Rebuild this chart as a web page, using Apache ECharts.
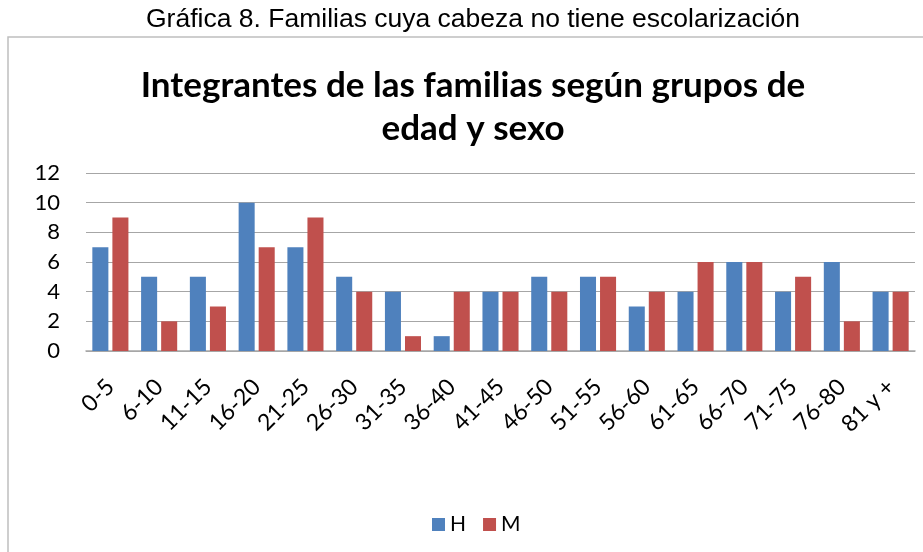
<!DOCTYPE html>
<html>
<head>
<meta charset="utf-8">
<title>ECharts</title>
<script src="https://cdn.jsdelivr.net/npm/echarts@6/dist/echarts.min.js"></script>
<style>
  body { margin: 0; background: #fff; }
</style>
</head>
<body>
<div id="main" style="width: 923px;height:552px;"></div>
<script type="text/javascript">
var categories = ['0-5', '6-10', '11-15', '16-20', '21-25', '26-30', '31-35', '36-40', '41-45',
  '46-50', '51-55', '56-60', '61-65', '66-70', '71-75', '76-80', '81 y +'];
var hombres = [7, 5, 5, 10, 7, 5, 4, 1, 4, 5, 5, 3, 4, 6, 4, 6, 4];
var mujeres = [9, 2, 3, 7, 9, 4, 1, 4, 4, 4, 5, 4, 6, 6, 5, 2, 4];
var yTicks = [0, 2, 4, 6, 8, 10, 12];

var myChart = echarts.init(document.getElementById('main'));
var font = 'Lato, "Open Sans", sans-serif';

var option = {
  animation: false,
  graphic: [{
    type: 'rect',
    shape: { x: 8, y: 37, width: 930, height: 530 },
    style: { fill: 'none', stroke: '#bfbfbf', lineWidth: 1.5 },
    z: -1
  }, {
    type: 'text',
    x: 473, y: 6,
    style: {
      text: 'Gráfica 8. Familias cuya cabeza no tiene escolarización',
      textAlign: 'center',
      font: '26.5px "Liberation Sans", Arial, sans-serif',
      fill: '#000'
    }
  }, {
    type: 'text',
    x: 473, y: 64,
    style: {
      text: 'Integrantes de las familias según grupos de\nedad y sexo',
      textAlign: 'center',
      font: 'bold 35px Lato, "Open Sans", sans-serif',
      lineHeight: 43,
      fill: '#000'
    }
  }],
  legend: {
    bottom: 12, left: 427,
    itemWidth: 13, itemHeight: 13, itemGap: 17,
    icon: 'rect',
    textStyle: { fontFamily: font, fontSize: 21, color: '#000' },
    data: ['H', 'M']
  },
  grid: { left: 86, right: 8, top: 173, height: 178, containLabel: false },
  xAxis: {
    type: 'category',
    data: categories,
    axisLine: { lineStyle: { color: '#a6a6a6', width: 1.5 } },
    axisTick: { show: false },
    axisLabel: { rotate: 45, margin: 32, interval: 0, fontFamily: font, fontSize: 23, color: '#000' }
  },
  yAxis: {
    type: 'value',
    min: yTicks[0], max: yTicks[yTicks.length - 1], interval: 2,
    axisLine: { show: false },
    axisTick: { show: false },
    splitLine: { lineStyle: { color: '#a6a6a6', width: 1.2 } },
    axisLabel: { margin: 26, fontFamily: font, fontSize: 22, color: '#000' }
  },
  series: [{
    name: 'H', type: 'bar', data: hombres,
    barGap: '25%', barCategoryGap: '26%',
    itemStyle: { color: '#4f81bd' }
  }, {
    name: 'M', type: 'bar', data: mujeres,
    itemStyle: { color: '#c0504d' }
  }]
};
myChart.setOption(option);
</script>
</body>
</html>
